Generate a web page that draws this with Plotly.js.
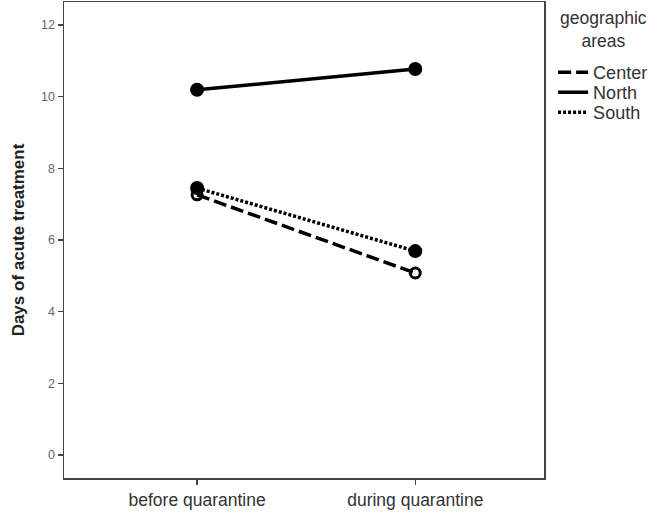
<!DOCTYPE html>
<html>
<head>
<meta charset="utf-8">
<script src="https://cdn.plot.ly/plotly-3.0.1.min.js"></script>
<style>html,body{margin:0;padding:0;background:#fff;}#chart{width:664px;height:514px;}</style>
</head>
<body>
<div id="chart"></div>
<script>
var periods = ["before quarantine", "during quarantine"];
var areaNames = ["Center", "North", "South"];
var centerValues = [7.26, 5.08];
var northValues = [10.19, 10.77];
var southValues = [7.45, 5.69];
var yTickValues = [0, 2, 4, 6, 8, 10, 12];
var legendTitle = "geographic<br>areas";

var dashes = {Center: "13px,5px", North: "solid", South: "3px,2px"};
var markerSymbols = {Center: "circle-open", North: "circle", South: "circle"};
var seriesValues = {Center: centerValues, North: northValues, South: southValues};
var legendIds = {Center: "legend", North: "legend2", South: "legend3"};

var traces = [];
["South", "North", "Center"].forEach(function (name) {
  traces.push({
    type: "scatter", mode: "lines+markers",
    x: [0, 1], y: seriesValues[name],
    name: name, showlegend: false,
    line: {color: "#000", width: 3.5, dash: dashes[name]},
    marker: {symbol: markerSymbols[name], size: name === "Center" ? 10 : 11, color: "#000", line: {color: "#000", width: 3}},
    hoverinfo: "skip"
  });
});
areaNames.forEach(function (name) {
  traces.push({
    type: "scatter", mode: "lines",
    x: [null], y: [null],
    name: name, showlegend: true, legend: legendIds[name],
    line: {color: "#000", width: 3.5, dash: dashes[name]}
  });
});

function legendAt(y) {
  return {
    x: 1.019, xanchor: "left", y: y, yanchor: "top",
    bgcolor: "rgba(0,0,0,0)",
    font: {size: 18, color: "#333"},
    itemwidth: 30
  };
}

var layout = {
  width: 664, height: 514,
  margin: {l: 64, r: 120, t: 2, b: 36},
  paper_bgcolor: "#fff", plot_bgcolor: "#fff",
  font: {family: "Liberation Sans, Arial, sans-serif", color: "#333"},
  xaxis: {
    range: [-0.61, 1.59],
    tickvals: [0, 1], ticktext: periods,
    ticks: "outside", ticklen: 5, tickwidth: 1.5, tickcolor: "#444",
    showline: true, linecolor: "#444", linewidth: 1.5, mirror: true,
    showgrid: false, zeroline: false,
    tickfont: {size: 17.5, color: "#333"}, fixedrange: true
  },
  yaxis: {
    range: [-0.64, 12.64],
    tickvals: yTickValues,
    ticks: "outside", ticklen: 5, tickwidth: 1.5, tickcolor: "#444",
    showline: true, linecolor: "#444", linewidth: 1.5, mirror: true,
    showgrid: false, zeroline: false,
    tickfont: {size: 12.5, color: "#666"},
    title: {text: "<b>Days of acute treatment</b>", font: {size: 17, color: "#222"}, standoff: 12},
    fixedrange: true
  },
  legend: legendAt(0.8908),
  legend2: legendAt(0.8487),
  legend3: legendAt(0.8067),
  annotations: [
    {xref: "paper", yref: "paper", x: 1.123, y: 0.942, xanchor: "center", yanchor: "middle",
     text: legendTitle, align: "center", showarrow: false, font: {size: 17.5, color: "#333"}}
  ],
  showlegend: true
};

Plotly.newPlot("chart", traces, layout, {staticPlot: true});
</script>
</body>
</html>
